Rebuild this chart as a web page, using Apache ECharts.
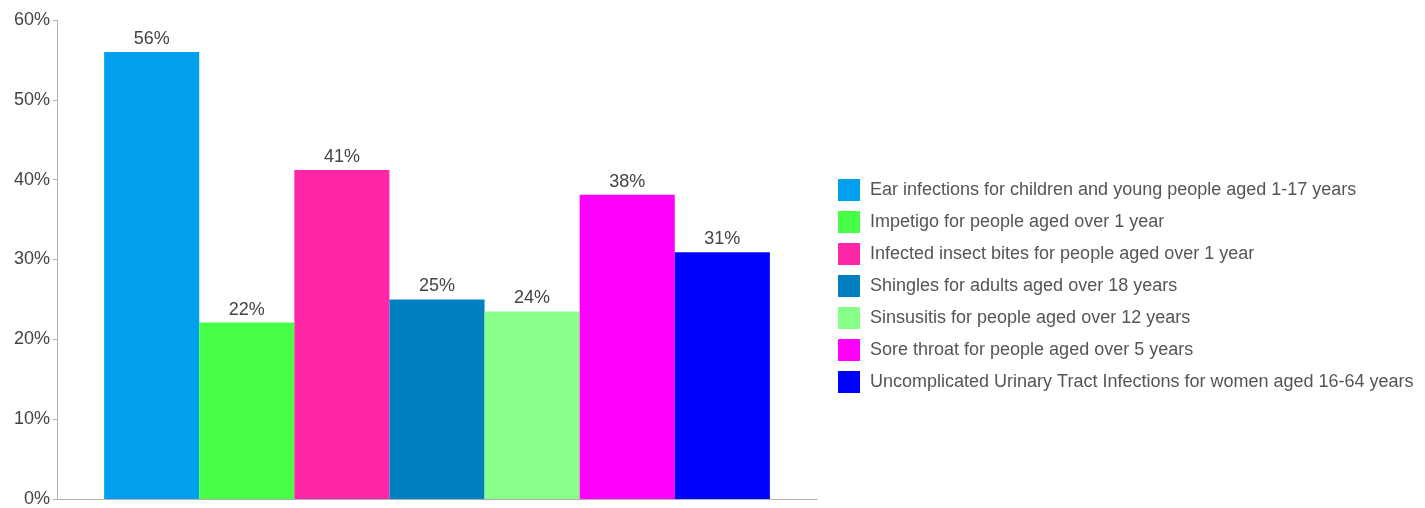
<!DOCTYPE html>
<html>
<head>
    <meta charset="utf-8">
    <title>Antibiotic prescribing</title>
    <script type="text/javascript" src="https://cdn.jsdelivr.net/npm/echarts@6/dist/echarts.min.js"></script>
    <style type="text/css">
        html, body { margin: 0; padding: 0; background: #fff; }
        #chart { width: 1425px; height: 508px; }
    </style>
</head>
<body>
<div id="chart"></div>
<script type="text/javascript">
    // one category, seven conditions
    let conditions = [
        'Ear infections for children and young people aged 1-17 years',
        'Impetigo for people aged over 1 year',
        'Infected insect bites for people aged over 1 year',
        'Shingles for adults aged over 18 years',
        'Sinsusitis for people aged over 12 years',
        'Sore throat for people aged over 5 years',
        'Uncomplicated Urinary Tract Infections for women aged 16-64 years'
    ]
    let percents = [56, 22.1, 41.2, 25, 23.5, 38.1, 30.9]
    let colours = ['#00a0ee', '#46ff46', '#ff26a8', '#0080c0', '#88ff88', '#ff00ff', '#0000ff']
    let yTicks = [0, 10, 20, 30, 40, 50, 60]

    let fontName = "'Liberation Sans', Arial, sans-serif"

    let series = conditions.map(function (name, i) {
        return {
            name: name,
            type: 'bar',
            data: [percents[i]],
            barGap: '0%',
            barCategoryGap: '12.4%',
            itemStyle: {color: colours[i]},
            label: {
                show: true,
                position: 'top',
                distance: 4,
                color: '#444',
                fontSize: 18,
                fontFamily: fontName,
                formatter: function (p) { return Math.round(p.value) + '%' }
            }
        }
    })

    let chart = echarts.init(document.getElementById('chart'), null, {renderer: 'canvas'})
    chart.setOption({
        animation: false,
        color: colours,
        grid: {left: 57, right: 608, top: 20, bottom: 5, containLabel: false},
        legend: {
            orient: 'vertical',
            left: 838,
            top: 179,
            padding: 0,
            itemWidth: 22,
            itemHeight: 22,
            itemGap: 10,
            icon: 'rect',
            textStyle: {
                fontSize: 18,
                color: '#555',
                fontFamily: fontName,
                padding: [0, 0, 0, 5]
            },
            data: conditions
        },
        xAxis: {
            type: 'category',
            data: [''],
            axisLine: {lineStyle: {color: '#b0b0b0', width: 1}},
            axisTick: {show: false},
            axisLabel: {show: false}
        },
        yAxis: {
            type: 'value',
            min: yTicks[0],
            max: yTicks[yTicks.length - 1],
            interval: 10,
            axisLine: {show: true, lineStyle: {color: '#b0b0b0'}},
            axisTick: {show: true, length: 4, lineStyle: {color: '#b0b0b0'}},
            splitLine: {show: false},
            axisLabel: {
                fontSize: 18,
                color: '#444',
                margin: 7,
                padding: [6, 0, 0, 0],
                fontFamily: fontName,
                formatter: '{value}%'
            }
        },
        series: series
    })
</script>
</body>
</html>
